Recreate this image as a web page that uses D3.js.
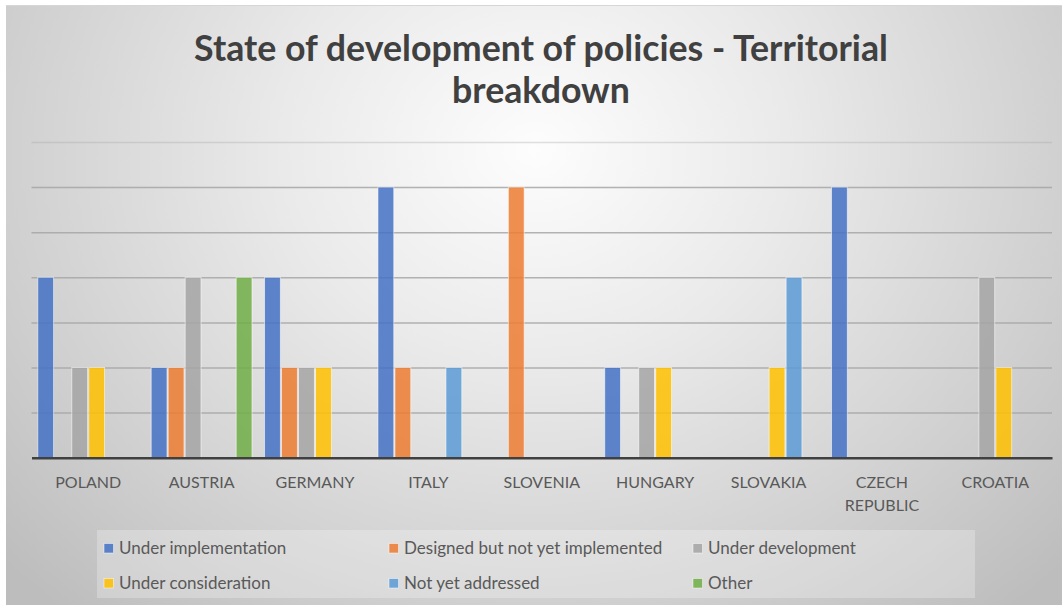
<!DOCTYPE html>
<html>
<head>
<meta charset="utf-8">
<script src="https://cdn.jsdelivr.net/npm/d3@7"></script>
<style>
  html, body { margin: 0; padding: 0; background: #ffffff; }
  svg { display: block; }
</style>
</head>
<body>
<svg id="chart" width="1062" height="605"></svg>
<script>
// ---- Data ----
const categories = ["POLAND", "AUSTRIA", "GERMANY", "ITALY", "SLOVENIA", "HUNGARY", "SLOVAKIA", "CZECH REPUBLIC", "CROATIA"];
const seriesNames = ["Under implementation", "Designed but not yet implemented", "Under development", "Under consideration", "Not yet addressed", "Other"];
const underImplementation = [4, 2, 4, 6, 0, 2, 0, 6, 0];
const designedNotImplemented = [0, 2, 2, 2, 6, 0, 0, 0, 0];
const underDevelopment = [2, 4, 2, 0, 0, 2, 0, 0, 4];
const underConsideration = [2, 0, 2, 0, 0, 2, 2, 0, 2];
const notYetAddressed = [0, 0, 0, 2, 0, 0, 4, 0, 0];
const other = [0, 4, 0, 0, 0, 0, 0, 0, 0];
const yTicks = [0, 1, 2, 3, 4, 5, 6, 7];
const seriesColors = ["#4472C4", "#ED7D31", "#A5A5A5", "#FFC000", "#5B9BD5", "#70AD47"];

const seriesValues = [underImplementation, designedNotImplemented, underDevelopment, underConsideration, notYetAddressed, other];

// ---- Setup ----
const W = 1062, H = 605;
const svg = d3.select("#chart");
const defs = svg.append("defs");
const grad = defs.append("radialGradient")
  .attr("id", "bg").attr("gradientUnits", "userSpaceOnUse")
  .attr("cx", 535).attr("cy", 150).attr("r", 720)
  .attr("gradientTransform", "translate(535,150) scale(1,0.85) translate(-535,-150)");
grad.append("stop").attr("offset", "0%").attr("stop-color", "#fdfdfd");
grad.append("stop").attr("offset", "35%").attr("stop-color", "#eaeaea");
grad.append("stop").attr("offset", "75%").attr("stop-color", "#cfcfcf");
grad.append("stop").attr("offset", "100%").attr("stop-color", "#bdbdbd");

svg.append("rect").attr("x", 6).attr("y", 5).attr("width", W - 6).attr("height", H - 5)
  .attr("fill", "url(#bg)");
svg.append("line").attr("x1", 6).attr("x2", W).attr("y1", 5.5).attr("y2", 5.5)
  .attr("stroke", "#d6d6d6").attr("stroke-width", 1);

const plot = { left: 31.5, right: 1052, top: 142, bottom: 457.7 };

const x0 = d3.scaleBand().domain(categories).range([plot.left, plot.right]).padding(0);
const groupPad = 5.7;
const x1 = d3.scaleBand().domain(seriesNames).range([groupPad, x0.bandwidth() - groupPad]).padding(0);
const y = d3.scaleLinear().domain([0, 7]).range([plot.bottom, plot.top]);

// Gridlines via axis
const gridAxis = d3.axisLeft(y).tickValues(yTicks.filter(t => t > 0)).tickSize(-(plot.right - plot.left)).tickFormat("");
const gridG = svg.append("g").attr("transform", `translate(${plot.left},0)`).call(gridAxis);
gridG.select(".domain").remove();
gridG.selectAll(".tick line").attr("stroke", "#a6a6a6").attr("stroke-width", 1.5)
  .attr("stroke-opacity", d => d === 7 ? 0.35 : 0.85);

// Bars
const groups = svg.append("g").selectAll("g")
  .data(categories)
  .join("g")
  .attr("transform", d => `translate(${x0(d)},0)`);

groups.selectAll("rect")
  .data((c, i) => seriesNames.map((s, k) => ({ s, k, v: seriesValues[k][i] })).filter(d => d.v > 0))
  .join("rect")
  .attr("x", d => x1(d.s) + 0.6)
  .attr("width", x1.bandwidth() - 1.2)
  .attr("y", d => y(d.v))
  .attr("height", d => y(0) - y(d.v))
  .attr("fill", d => seriesColors[d.k])
  .attr("fill-opacity", 0.85)
  .attr("stroke", "#ffffff")
  .attr("stroke-opacity", 0.6)
  .attr("stroke-width", 0.9);

// Baseline + category axis
const xAxis = d3.axisBottom(x0).tickSize(0).tickFormat("");
const xg = svg.append("g").attr("transform", `translate(0,${plot.bottom})`).call(xAxis);
xg.select(".domain").attr("stroke", "#404040").attr("stroke-width", 2.5);

const labelG = svg.append("g");
categories.forEach(c => {
  const words = c === "CZECH REPUBLIC" ? ["CZECH", "REPUBLIC"] : [c];
  const t = labelG.append("text")
    .attr("x", x0(c) + x0.bandwidth() / 2)
    .attr("y", 488)
    .attr("text-anchor", "middle")
    .attr("font-family", "Lato, 'Open Sans', sans-serif")
    .attr("font-size", 16)
    .attr("fill", "#595959");
  words.forEach((w, i) => {
    t.append("tspan").attr("x", x0(c) + x0.bandwidth() / 2).attr("dy", i === 0 ? 0 : 23).text(w);
  });
});

// Title
const titleLines = ["State of development of policies - Territorial", "breakdown"];
const titleG = svg.append("g");
const t1 = titleG.append("text").attr("x", 541).attr("y", 61).attr("text-anchor", "middle")
  .attr("font-family", "Lato, 'Open Sans', sans-serif").attr("font-weight", "bold")
  .attr("font-size", 32).attr("fill", "#404040").text(titleLines[0]);
const w1 = t1.node().getComputedTextLength();
const fs = 32 * 694 / w1;
t1.attr("font-size", fs);
titleG.append("text").attr("x", 541).attr("y", 103).attr("text-anchor", "middle")
  .attr("font-family", "Lato, 'Open Sans', sans-serif").attr("font-weight", "bold")
  .attr("font-size", fs).attr("fill", "#404040").text(titleLines[1]);

// Legend
const legendBox = { x: 97, y: 530, w: 878, h: 68 };
svg.append("rect").attr("x", legendBox.x).attr("y", legendBox.y)
  .attr("width", legendBox.w).attr("height", legendBox.h)
  .attr("fill", "#ffffff").attr("fill-opacity", 0.25);
const legendCols = [104, 389, 693];
const legendRows = [548, 583];
const lg = svg.append("g");
seriesNames.forEach((s, i) => {
  const cx = legendCols[i % 3], cy = legendRows[Math.floor(i / 3)];
  lg.append("rect").attr("x", cx).attr("y", cy - 4.5).attr("width", 9.5).attr("height", 9.5)
    .attr("fill", seriesColors[i]).attr("fill-opacity", 0.85)
    .attr("stroke", "#ffffff").attr("stroke-opacity", 0.6).attr("stroke-width", 0.8);
  lg.append("text").attr("x", cx + 15).attr("y", cy + 6)
    .attr("font-family", "Lato, 'Open Sans', sans-serif").attr("font-size", 17)
    .attr("fill", "#595959").text(s);
});
</script>
</body>
</html>
